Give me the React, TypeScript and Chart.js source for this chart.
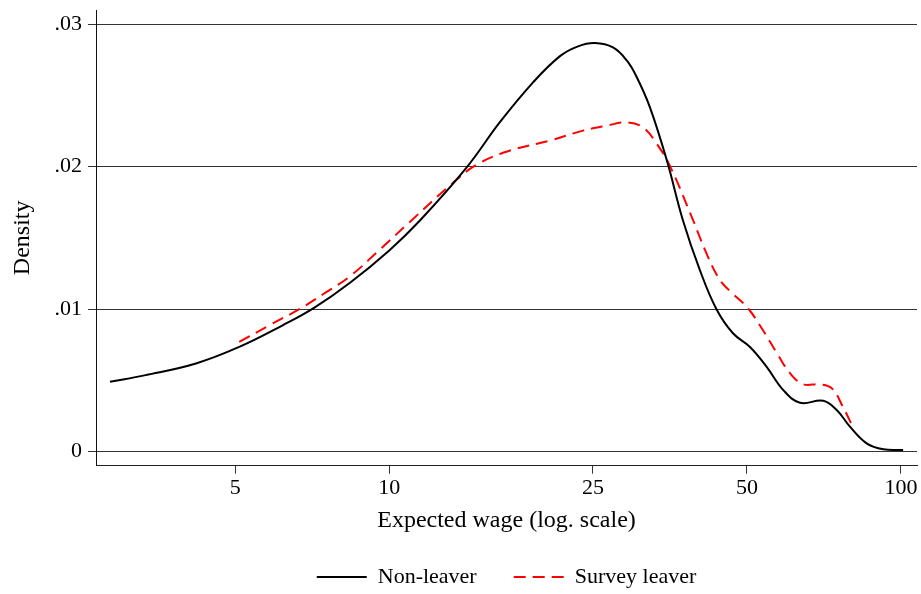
import React, { useEffect, useRef } from "react";
import { Chart, registerables } from "chart.js";

Chart.register(...registerables);

// ---- Data ----
const nonLeaverX = [2.846, 3.34, 4.19, 5.09, 6.19, 7.14, 8.38, 10, 11.48, 14.17, 16.45, 19.1, 21.56, 23.38, 25.23, 27.37, 29.14, 30.48, 32.32, 34.88, 37.5, 40.48, 43.63, 46.96, 50.7, 54.65, 58.9, 63.5, 70.5, 74.9, 79.5, 85.7, 92.4, 101];
const nonLeaverY = [0.00489, 0.00536, 0.00618, 0.00734, 0.00886, 0.0101, 0.01185, 0.01412, 0.01622, 0.01995, 0.02312, 0.02592, 0.02776, 0.02845, 0.02868, 0.02837, 0.02744, 0.02626, 0.02416, 0.02043, 0.01622, 0.01272, 0.00997, 0.0083, 0.00734, 0.00594, 0.00431, 0.00342, 0.00356, 0.00291, 0.00174, 0.00057, 0.00015, 0.0001];

const surveyLeaverX = [5.09, 5.83, 6.69, 7.42, 8.38, 9.5, 10.97, 13.14, 14.84, 17.22, 20.61, 23.91, 26.6, 29.14, 31.33, 33.3, 35.38, 39.26, 41.68, 44.31, 46.74, 50.23, 53.75, 57.24, 60.7, 64.35, 69.46, 73.3, 77.0, 80.5];
const surveyLeaverY = [0.00769, 0.00886, 0.01002, 0.01104, 0.0123, 0.01405, 0.01612, 0.01868, 0.02015, 0.02113, 0.02183, 0.02253, 0.02288, 0.02311, 0.02276, 0.02162, 0.02003, 0.01622, 0.01391, 0.01202, 0.01114, 0.01006, 0.00851, 0.0069, 0.0055, 0.00473, 0.00471, 0.00443, 0.00314, 0.00174];

const seriesLabels = ["Non-leaver", "Survey leaver"];
const seriesColors = ["#000000", "#ff0000"];
const seriesDashes: number[][] = [[], [12, 7]];

const xTickValues = [5, 10, 25, 50, 100];
const xTickLabels = ["5", "10", "25", "50", "100"];
const yTickValues = [0, 0.01, 0.02, 0.03];
const yTickLabels = ["0", ".01", ".02", ".03"];

const xTitle = "Expected wage (log. scale)";
const yTitle = "Density";

const FONT = "'Liberation Serif', 'Times New Roman', Times, serif";

export default function App() {
  const canvasRef = useRef<HTMLCanvasElement | null>(null);

  useEffect(() => {
    const canvas = canvasRef.current;
    if (!canvas) return;
    const toPoints = (xs: number[], ys: number[]) => xs.map((x, i) => ({ x, y: ys[i] }));

    const chart = new Chart(canvas, {
      type: "line",
      data: {
        datasets: [
          {
            label: seriesLabels[0],
            data: toPoints(nonLeaverX, nonLeaverY),
            borderColor: seriesColors[0],
            backgroundColor: seriesColors[0],
            borderWidth: 2,
            borderDash: seriesDashes[0],
            pointRadius: 0,
            tension: 0.4,
            fill: false,
          },
          {
            label: seriesLabels[1],
            data: toPoints(surveyLeaverX, surveyLeaverY),
            borderColor: seriesColors[1],
            backgroundColor: seriesColors[1],
            borderWidth: 2,
            borderDash: seriesDashes[1],
            pointRadius: 0,
            tension: 0.4,
            fill: false,
          },
        ],
      },
      options: {
        responsive: false,
        animation: false,
        devicePixelRatio: 1,
        layout: { padding: { left: 0, right: 4, top: 10, bottom: 0 } },
        plugins: {
          tooltip: { enabled: false },
          legend: {
            position: "bottom",
            fullSize: false,
            align: "center",
            labels: {
              usePointStyle: true,
              pointStyle: "line",
              pointStyleWidth: 50,
              padding: 37,
              color: "#000",
              font: { family: FONT, size: 22 },
              generateLabels: (c: any) => {
                const base = (Chart as any).defaults.plugins.legend.labels.generateLabels(c);
                return base.map((item: any) => {
                  const ds: any = c.data.datasets[item.datasetIndex];
                  return {
                    ...item,
                    strokeStyle: ds.borderColor,
                    fillStyle: ds.borderColor,
                    lineWidth: ds.borderWidth,
                    lineDash: ds.borderDash || [],
                    lineDashOffset: 0,
                    pointStyle: "line",
                  };
                });
              },
            },
          },
        },
        scales: {
          x: {
            type: "logarithmic",
            min: 2.672,
            max: 107.5,
            bounds: "data",
            afterBuildTicks: (scale: any) => {
              scale.ticks = xTickValues.map((v) => ({ value: v }));
            },
            afterFit: (scale: any) => {
              scale.height = 63.3;
              scale.paddingLeft = 0;
              scale.paddingRight = 0;
            },
            ticks: {
              autoSkip: false,
              maxRotation: 0,
              minRotation: 0,
              padding: 1,
              color: "#000",
              font: { family: FONT, size: 22 },
              callback: (value: any) => {
                const i = xTickValues.indexOf(Number(value));
                return i >= 0 ? xTickLabels[i] : "";
              },
            },
            grid: {
              display: true,
              drawOnChartArea: false,
              drawTicks: true,
              tickLength: 8,
              color: "#333",
              lineWidth: 1,
            },
            border: { display: true, color: "#222", width: 1 },
            title: {
              display: true,
              text: xTitle,
              color: "#000",
              padding: 0,
              font: { family: FONT, size: 24, lineHeight: 0.7 },
            },
          },
          y: {
            type: "linear",
            min: -0.001,
            max: 0.031,
            afterBuildTicks: (scale: any) => {
              scale.ticks = yTickValues.map((v) => ({ value: v }));
            },
            afterFit: (scale: any) => {
              scale.width = 96;
              scale.paddingTop = 0;
              scale.paddingBottom = 0;
            },
            ticks: {
              autoSkip: false,
              padding: 6,
              color: "#000",
              font: { family: FONT, size: 22 },
              callback: (value: any) => {
                const i = yTickValues.indexOf(Number(value));
                return i >= 0 ? yTickLabels[i] : "";
              },
            },
            grid: {
              display: true,
              drawOnChartArea: true,
              drawTicks: true,
              tickLength: 8,
              color: "#333",
              lineWidth: 1,
            },
            border: { display: true, color: "#111", width: 1 },
            title: {
              display: true,
              text: yTitle,
              color: "#000",
              padding: { top: 8, bottom: 0 },
              font: { family: FONT, size: 24 },
            },
          },
        },
      },
    });
    return () => chart.destroy();
  }, []);

  return (
    <div
      style={{
        position: "fixed",
        left: 0,
        top: 0,
        width: 921,
        height: 594,
        overflow: "hidden",
        background: "#ffffff",
      }}
    >
      <canvas ref={canvasRef} width={921} height={598} style={{ display: "block", width: 921, height: 598 }} />
    </div>
  );
}
